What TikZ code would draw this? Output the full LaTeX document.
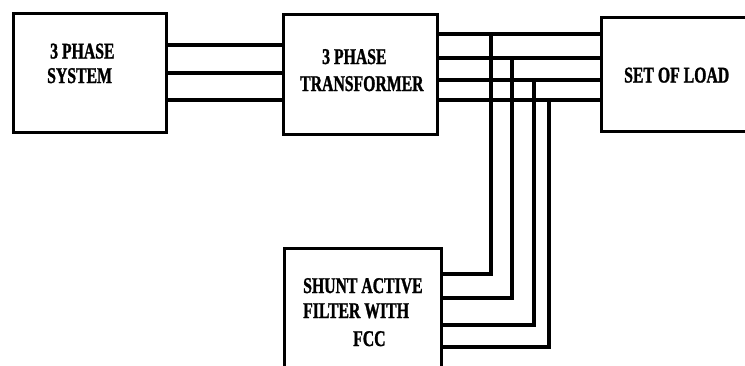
\documentclass[tikz,border=0pt]{standalone}
\usepackage{fontspec}
\setmainfont{Liberation Serif}[FakeStretch=0.70,BoldFeatures={FakeBold=1.2}]
\begin{document}
\begin{tikzpicture}[x=1pt,y=-1pt,
  blk/.style={draw,line width=3.2pt,minimum width=#1,inner sep=0pt,anchor=north west},
  wire/.style={line width=3.2pt},
  lbl/.style={anchor=base west,inner sep=0pt,font=\fontsize{22.5}{26}\selectfont\bfseries}]
\useasboundingbox (0,0) rectangle (745,365);
\clip (0,0) rectangle (745,365);
\node[blk=153pt,minimum height=119pt] (sys) at (12,12) {};
\node[blk=154pt,minimum height=120pt] (tr) at (282,13) {};
\node[blk=200pt,minimum height=114pt] (load) at (600,16) {};
\node[blk=157pt,minimum height=170pt] (saf) at (283,247) {};
% texts
\node[lbl] (t1) at (50,58.5) {3 PHASE};
\node[lbl] (t2) at (47,83) {SYSTEM};
\node[lbl] (t3) at (322,64) {3 PHASE};
\node[lbl] (t4) at (300,91) {TRANSFORMER};
\node[lbl] (t5) at (624,82.5) {SET OF LOAD};
\node[lbl] (t6) at (303,293) {SHUNT ACTIVE};
\node[lbl] (t7) at (303,318) {FILTER WITH};
\node[lbl] (t8) at (353,346) {FCC};
% system to transformer
\foreach \y in {45,73,100}
  \draw[wire] (sys.east |- 0,\y) -- (tr.west |- 0,\y);
% transformer to load
\foreach \y in {34,58,80,100}
  \draw[wire] (tr.east |- 0,\y) -- (load.west |- 0,\y);
% taps to filter
\coordinate (j1) at (491,34);
\coordinate (j2) at (512,58);
\coordinate (j3) at (534,80);
\coordinate (j4) at (549,100);
\draw[wire] (j1) |- (saf.east |- 0,274);
\draw[wire] (j2) |- (saf.east |- 0,298);
\draw[wire] (j3) |- (saf.east |- 0,325);
\draw[wire] (j4) |- (saf.east |- 0,347);
\end{tikzpicture}
\end{document}
